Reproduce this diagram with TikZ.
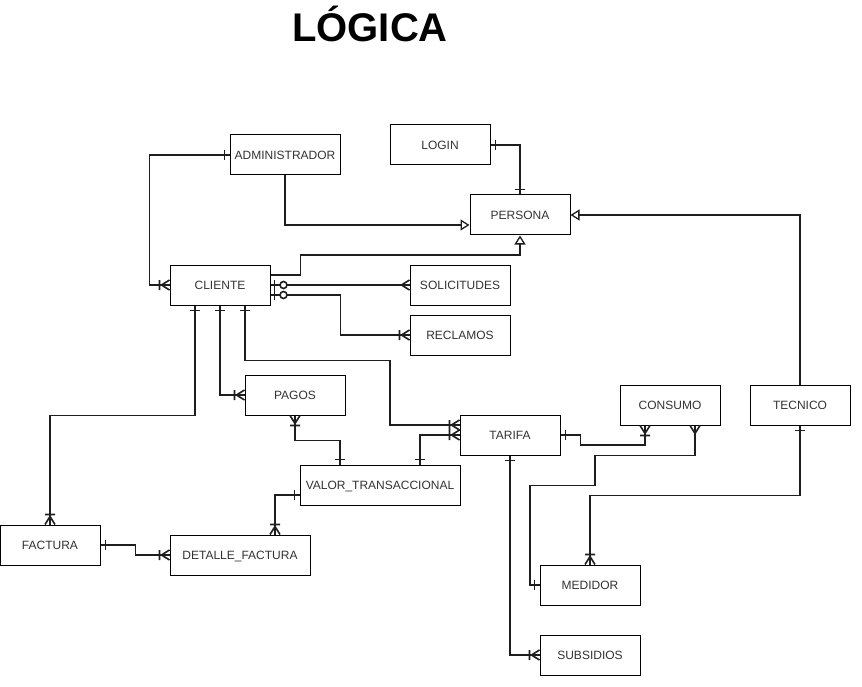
\documentclass[tikz,border=0pt]{standalone}
\usepackage{fontspec}
\setmainfont{Liberation Sans}
\usetikzlibrary{arrows.meta}
\definecolor{ErLine}{HTML}{1E1E1E}
\definecolor{ErText}{HTML}{333333}

\pgfdeclarearrow{
  name = erone,
  setup code = {
    \pgfarrowssettipend{0pt}
    \pgfarrowssetbackend{-7pt}
    \pgfarrowssetlineend{0pt}
  },
  drawing code = {
    \pgfsetlinewidth{1.6pt}
    \pgfpathmoveto{\pgfqpoint{-5pt}{5pt}}
    \pgfpathlineto{\pgfqpoint{-5pt}{-5pt}}
    \pgfusepathqstroke
  }
}
\pgfdeclarearrow{
  name = ermany,
  setup code = {
    \pgfarrowssettipend{0pt}
    \pgfarrowssetbackend{-8pt}
    \pgfarrowssetlineend{0pt}
  },
  drawing code = {
    \pgfsetlinewidth{1.6pt}
    \pgfpathmoveto{\pgfqpoint{0pt}{5pt}}
    \pgfpathlineto{\pgfqpoint{-8pt}{0pt}}
    \pgfpathlineto{\pgfqpoint{0pt}{-5pt}}
    \pgfusepathqstroke
  }
}
\pgfdeclarearrow{
  name = eronemany,
  setup code = {
    \pgfarrowssettipend{0pt}
    \pgfarrowssetbackend{-11pt}
    \pgfarrowssetlineend{0pt}
  },
  drawing code = {
    \pgfsetlinewidth{1.6pt}
    \pgfpathmoveto{\pgfqpoint{0pt}{5pt}}
    \pgfpathlineto{\pgfqpoint{-8pt}{0pt}}
    \pgfpathlineto{\pgfqpoint{0pt}{-5pt}}
    \pgfpathmoveto{\pgfqpoint{-10pt}{5pt}}
    \pgfpathlineto{\pgfqpoint{-10pt}{-5pt}}
    \pgfusepathqstroke
  }
}
\pgfdeclarearrow{
  name = erzeroone,
  setup code = {
    \pgfarrowssettipend{0pt}
    \pgfarrowssetbackend{-17pt}
    \pgfarrowssetlineend{0pt}
  },
  drawing code = {
    \pgfsetlinewidth{1.6pt}
    \pgfpathmoveto{\pgfqpoint{-4pt}{5pt}}
    \pgfpathlineto{\pgfqpoint{-4pt}{-5pt}}
    \pgfusepathqstroke
    \pgfsetfillcolor{white}
    \pgfpathcircle{\pgfqpoint{-13pt}{0pt}}{3.5pt}
    \pgfusepathqfillstroke
  }
}

\begin{document}
\begin{tikzpicture}[x=1pt,y=-1pt,
    ent/.style={draw=black,line width=1pt,fill=white,minimum height=40pt,inner sep=0pt,
      text height=8.6pt,text depth=0pt,font=\fontsize{12}{14}\selectfont,text=ErText},
    rel/.style={draw=ErLine,line width=1.9pt},
    isa/.style={rel,-{Triangle[open,length=9pt,width=11pt,line width=1.3pt]}}]
  \useasboundingbox (0,0) rectangle (862,687);
  \node[anchor=base,font=\bfseries\fontsize{40}{48}\selectfont] (titulo) at (370,42) {LÓGICA};
  \foreach \n/\x/\y/\w/\txt in {adm/285/155/110/ADMINISTRADOR,login/440/145/100/LOGIN,
      per/520/215/100/PERSONA,cli/220/285/100/CLIENTE,sol/460/285/100/SOLICITUDES,
      rec/460/335/100/RECLAMOS,pag/295/395/100/PAGOS,tar/510/435/100/TARIFA,
      con/670/405/100/CONSUMO,tec/800/405/100/TECNICO,val/380/485/160/VALOR\_TRANSACCIONAL,
      fac/50/545/100/FACTURA,det/240/555/140/DETALLE\_FACTURA,med/590/585/100/MEDIDOR,
      sub/590/655/100/SUBSIDIOS}
    \node[ent,minimum width=\w] (\n) at (\x,\y) {\txt};

  \draw[rel,{erone}-{eronemany}] (adm.west) -- ++(-80,0) |- (cli.west);
  \draw[isa] (adm.south) |- ([yshift=-10pt]per.west);
  \draw[rel,{erone}-{erone}] (login.east) -| (per.north);
  \draw[isa] ([yshift=10pt]cli.east) -- ++(30,0) -- ++(0,-20) -| (per.south);
  \draw[isa] (tec.north) |- (per.east);
  \draw[rel,{erzeroone}-{ermany}] (cli.east) -- (sol.west);
  \draw[rel,{erzeroone}-{eronemany}] ([yshift=-10pt]cli.east) -- ++(70,0) |- (rec.west);
  \draw[rel,{erone}-{eronemany}] ([xshift=-25pt]cli.south) -- ++(0,110) -| (fac.north);
  \draw[rel,{erone}-{eronemany}] (cli.south) |- (pag.west);
  \draw[rel,{erone}-{eronemany}] ([xshift=25pt]cli.south) -- ++(0,55) -- ++(145,0) |- ([yshift=10pt]tar.west);
  \draw[rel,{erone}-{eronemany}] ([xshift=40pt]val.north) |- (tar.west);
  \draw[rel,{eronemany}-{erone}] (pag.south) -- ++(0,25) -| ([xshift=-40pt]val.north);
  \draw[rel,{erone}-{eronemany}] ([yshift=-10pt]val.west) -| ([xshift=35pt]det.north);
  \draw[rel,{erone}-{eronemany}] (fac.east) -- ++(35,0) |- (det.west);
  \draw[rel,{erone}-{eronemany}] (tar.east) -- ++(20,0) -- ++(0,10) -| ([xshift=-25pt]con.south);
  \draw[rel,{ermany}-{erone}] ([xshift=25pt]con.south) -- ++(0,30) -| ++(-100,30) -- ++(-65,0) |- (med.west);
  \draw[rel,{erone}-{eronemany}] (tec.south) -- ++(0,70) -| (med.north);
  \draw[rel,{erone}-{eronemany}] (tar.south) |- (sub.west);
\end{tikzpicture}
\end{document}
